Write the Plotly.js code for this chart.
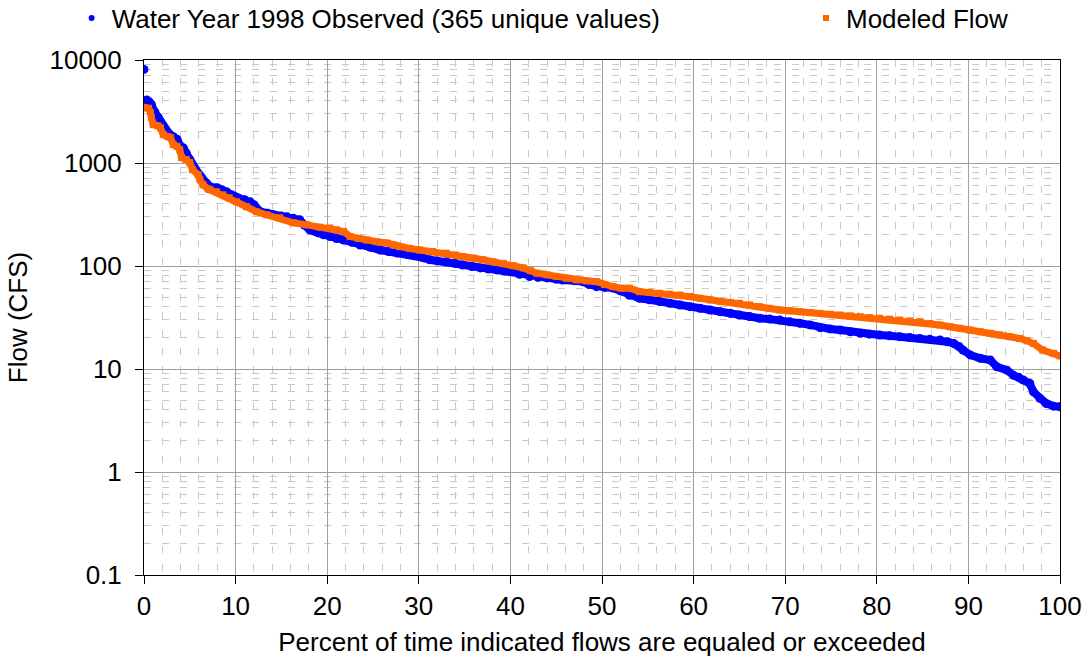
<!DOCTYPE html>
<html>
<head>
<meta charset="utf-8">
<script src="https://cdn.plot.ly/plotly-3.0.1.min.js"></script>
<style>html,body{margin:0;padding:0;background:#fff;}#chart{width:1087px;height:666px;}</style>
</head>
<body>
<div id="chart"></div>
<script>
// Observed flow duration (percent exceeded, flow in CFS)
const obsPct = [0.0,0.3,0.6,0.8,1.2,1.5,1.8,2.3,2.8,3.2,3.6,4.0,4.3,4.6,5.0,5.5,6.0,6.3,6.8,7.2,8.0,8.5,9.0,9.5,10.1,11.0,11.6,12.0,12.7,13.5,14.1,15.0,15.6,16.3,17.0,17.5,18.1,19.0,19.6,20.3,21.0,21.8,22.7,23.6,24.7,25.8,26.7,27.6,28.7,29.8,30.5,31.2,32.0,33.0,34.0,34.8,35.8,36.7,37.6,38.5,39.3,40.0,41.0,42.1,43.0,44.0,45.0,45.7,47.0,47.9,48.6,49.4,50.3,51.2,52.0,53.0,54.1,55.2,56.3,57.4,58.5,59.6,60.7,61.8,62.9,64.0,65.0,66.1,67.2,68.3,69.4,70.5,71.6,72.7,73.8,74.9,76.0,77.1,78.2,79.2,80.3,81.4,82.5,83.6,84.7,85.8,86.9,87.7,88.4,89.0,89.4,90.2,91.3,92.4,93.1,94.2,94.9,95.5,96.0,96.7,97.1,97.8,98.5,99.3,100];
const obsFlow = [8100,4100,3900,3700,3100,2800,2500,2100,1900,1800,1700,1450,1400,1250,1080,870,780,720,640,590,575,550,526,490,460,440,420,393,336,325,314,305,300,290,281,250,224,210,201,193,185,179,170,160,152,143,138,134,131,128,120,115,112,110,106,102,99,95.8,93.5,91.6,89.5,88.2,83,78.9,77.5,76.6,74.5,73.2,72,70.5,66,63,62,61.2,57.5,52,48.6,47,45.1,43.5,41.8,40.3,38.9,37.4,36.0,34.7,33.4,32.3,31.1,30.5,29.9,28.8,27.8,26.8,25.2,24.5,23.9,23.0,22.2,21.8,21.4,21.0,20.6,20.2,19.8,19.4,19.1,18.4,17.7,16.5,15.3,13.7,12.7,12.2,10.5,9.75,8.72,8.3,7.8,7.24,6.0,5.18,4.63,4.36,4.29];

// Modeled flow duration
const modPct = [0.0,0.5,0.7,0.8,1.0,1.5,1.8,2.1,2.6,2.9,3.2,3.6,3.9,4.1,4.6,5.0,5.3,5.9,6.1,6.45,7.0,7.2,7.9,8.6,9.3,10.1,11.2,12.3,13.4,14.8,16.3,17.8,19.2,20.3,21.0,21.8,22.5,23.4,24.3,25.4,26.5,27.2,27.9,29.0,30.1,31.5,33.0,34.0,34.8,36.0,37.0,38.1,39.2,40.3,41.4,42.2,42.9,44.0,45.0,46.1,47.2,48.3,49.4,50.3,51.2,52.1,53.0,54.1,55.2,56.3,57.4,58.5,59.6,60.7,61.8,62.9,64.0,65.0,66.1,67.2,68.3,69.4,70.5,71.6,72.7,73.8,74.9,76.0,77.1,78.2,79.2,80.3,81.4,82.5,83.6,84.7,85.8,86.9,88.0,89.1,90.2,91.3,92.4,93.4,94.5,95.6,96.4,97.1,98.1,99.3,100];
const modFlow = [3450,3400,3086,2758,2358,2300,2204,1885,1800,1762,1507,1450,1347,1126,1080,1007,861,770,688,615,560,550,526,491,460,420,376,336,314,294,263,251,238,234,225,216,193,185,179,172,167,160,154,148,143,138,133,128,123,119,115,110,106,101,95.8,90,85.1,82,78.9,76,73.2,71.8,70.5,66,63,60.8,60.8,56.4,55.4,54.4,53.3,52.3,50.4,48.6,46.8,45.1,44.3,43.5,41.9,40.3,38.8,37.4,36.7,36.0,35.3,34.7,34.0,33.4,32.8,32.2,31.6,31.1,30.5,29.9,29.3,28.8,27.7,26.7,25.7,24.8,23.9,23.0,22.2,21.4,20.6,19.8,18.8,17.7,15.3,14.2,13.4];

const seriesNames = ['Water Year 1998 Observed (365 unique values)', 'Modeled Flow'];
const yTicks = [0.1, 1, 10, 100, 1000, 10000];
const yTickText = ['0.1', '1', '10', '100', '1000', '10000'];
const xTicks = [0,10,20,30,40,50,60,70,80,90,100];

const BLUE = '#0000FF', ORANGE = '#FF6600';
const FONT = 'Liberation Sans, Arial, sans-serif';

const traces = [
  // observed: band (from 2nd point on, the top value stands alone as a dot) + dots
  {x: obsPct.slice(1), y: obsFlow.slice(1), type: 'scatter', mode: 'lines', showlegend: false,
   line: {color: BLUE, width: 8}, hoverinfo: 'skip'},
  {x: obsPct, y: obsFlow, type: 'scatter', mode: 'markers', showlegend: false,
   marker: {color: BLUE, symbol: 'circle', size: 9}, hoverinfo: 'skip'},
  // modeled on top
  {x: modPct, y: modFlow, type: 'scatter', mode: 'lines+markers', showlegend: false,
   line: {color: ORANGE, width: 7}, marker: {color: ORANGE, symbol: 'square', size: 7}, hoverinfo: 'skip'},
  // legend entries
  {x: [null], y: [null], type: 'scatter', mode: 'markers', name: seriesNames[0], legend: 'legend',
   marker: {color: BLUE, symbol: 'circle', size: 6}},
  {x: [null], y: [null], type: 'scatter', mode: 'markers', name: seriesNames[1], legend: 'legend2',
   marker: {color: ORANGE, symbol: 'square', size: 6}}
];

const legendFont = {family: FONT, size: 26, color: '#000'};
const layout = {
  width: 1087, height: 666,
  paper_bgcolor: '#ffffff', plot_bgcolor: '#ffffff',
  margin: {l: 144, r: 27, t: 60, b: 91, autoexpand: false},
  font: {family: FONT, size: 26, color: '#000'},
  showlegend: true,
  legend: {x: -0.079, xanchor: 'left', y: 1.0816, yanchor: 'middle', orientation: 'h',
           font: legendFont, bgcolor: 'rgba(0,0,0,0)', borderwidth: 0},
  legend2: {x: 0.7227, xanchor: 'left', y: 1.0816, yanchor: 'middle', orientation: 'h',
           font: legendFont, bgcolor: 'rgba(0,0,0,0)', borderwidth: 0},
  xaxis: {
    range: [0, 100], tickvals: xTicks, ticks: 'outside', ticklen: 8, tickwidth: 1, tickcolor: '#000',
    showline: true, linecolor: '#000', linewidth: 1, mirror: true,
    showgrid: true, gridcolor: '#a0a0a0', gridwidth: 1, zeroline: false,
    minor: {dtick: 2, showgrid: true, gridcolor: '#c8c8c8', griddash: '7px,11px', gridwidth: 1, ticks: ''},
    tickfont: {family: FONT, size: 26, color: '#000'},
    title: {text: 'Percent of time indicated flows are equaled or exceeded', font: {family: FONT, size: 26, color: '#000'}, standoff: 12}
  },
  yaxis: {
    type: 'log', range: [-1, 4], tickvals: yTicks, ticktext: yTickText,
    ticks: 'outside', ticklen: 8, tickwidth: 1, tickcolor: '#000', ticklabelstandoff: 8,
    showline: true, linecolor: '#000', linewidth: 1, mirror: true,
    showgrid: true, gridcolor: '#a0a0a0', gridwidth: 1, zeroline: false,
    minor: {dtick: 'D1', showgrid: true, gridcolor: '#c8c8c8', griddash: '7px,11px', gridwidth: 1, ticks: ''},
    tickfont: {family: FONT, size: 26, color: '#000'},
    title: {text: 'Flow (CFS)', font: {family: FONT, size: 26, color: '#000'}, standoff: 14}
  }
};

Plotly.newPlot('chart', traces, layout, {displayModeBar: false, staticPlot: true});
</script>
</body>
</html>
